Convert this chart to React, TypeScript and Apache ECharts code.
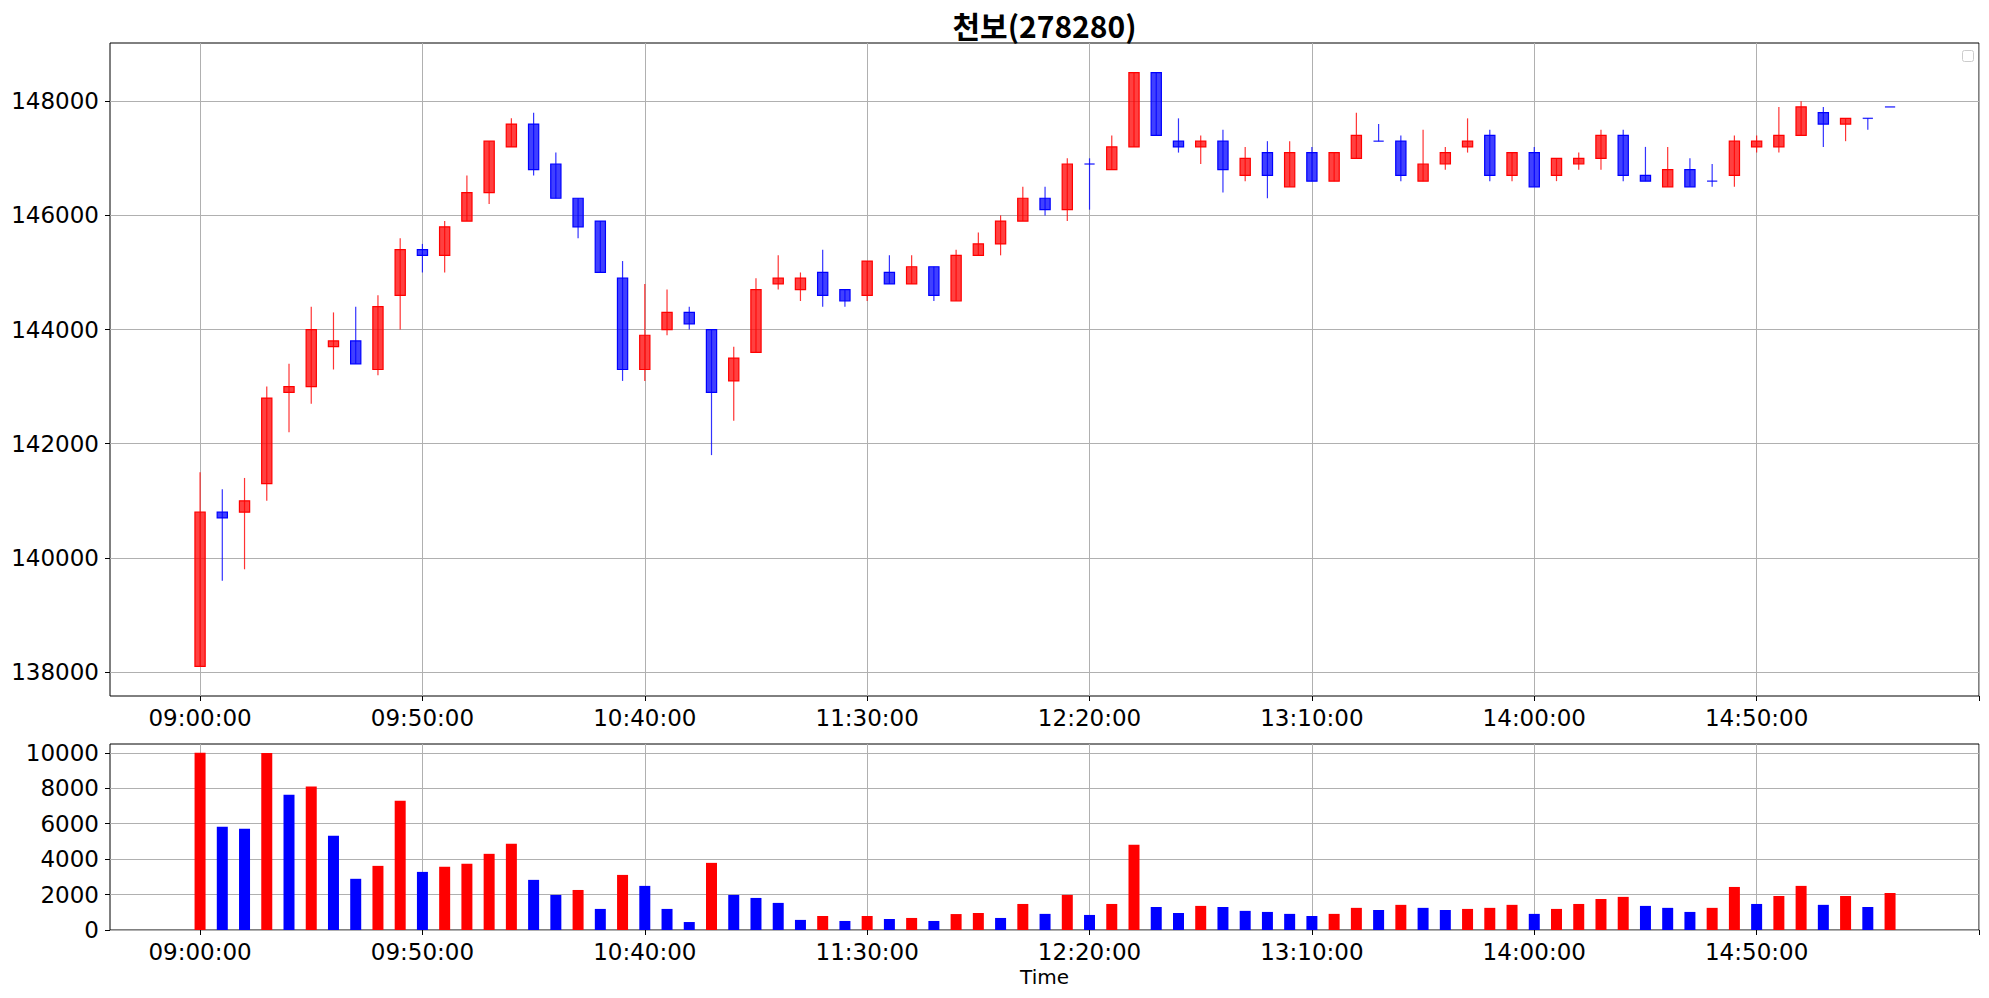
import React, { useEffect, useRef } from "react";
import * as echarts from "echarts";

const titleText = "천보(278280)";
const tickLabels = ["09:00:00", "09:50:00", "10:40:00", "11:30:00", "12:20:00", "13:10:00", "14:00:00", "14:50:00"];
const tickPositions = [0, 10, 20, 30, 40, 50, 60, 70];
const tickMarks = [0, 10, 20, 30, 40, 50, 60, 70, 80];
const priceTicks = [138000, 140000, 142000, 144000, 146000, 148000];
const volumeTicks = [0, 2000, 4000, 6000, 8000, 10000];

const openPrices = [
  138100, 140800, 140800, 141300, 142900, 143000, 143700, 143800, 143300, 144600,
  145400, 145300, 145900, 146400, 147200, 147600, 146900, 146300, 145900, 144900,
  143300, 144000, 144300, 144000, 143100, 143600, 144800, 144700, 145000, 144700,
  144600, 145000, 144800, 145100, 144500, 145300, 145500, 145900, 146300, 146100,
  146900, 146800, 147200, 148500, 147300, 147200, 147300, 146700, 147100, 146500,
  147100, 146600, 147000, 147300, 147300, 146600, 146900, 147200, 147400, 146700,
  147100, 146700, 146900, 147000, 147400, 146700, 146500, 146800, 146600, 146700,
  147200, 147200, 147400, 147800, 147600, 147700, 147900,
];
const closePrices = [
  140800, 140700, 141000, 142800, 143000, 144000, 143800, 143400, 144400, 145400,
  145300, 145800, 146400, 147300, 147600, 146800, 146300, 145800, 145000, 143300,
  143900, 144300, 144100, 142900, 143500, 144700, 144900, 144900, 144600, 144500,
  145200, 144800, 145100, 144600, 145300, 145500, 145900, 146300, 146100, 146900,
  146900, 147200, 148500, 147400, 147200, 147300, 146800, 147000, 146700, 147100,
  146600, 147100, 147400, 147300, 146700, 146900, 147100, 147300, 146700, 147100,
  146500, 147000, 147000, 147400, 146700, 146600, 146800, 146500, 146600, 147300,
  147300, 147400, 147900, 147600, 147700, 147700, 147900,
];
const lowPrices = [
  138100, 139600, 139800, 141000, 142200, 142700, 143300, 143400, 143200, 144000,
  145000, 145000, 145900, 146200, 147200, 146700, 146300, 145600, 145000, 143100,
  143100, 143900, 144000, 141800, 142400, 143600, 144700, 144500, 144400, 144400,
  144500, 144800, 144800, 144500, 144500, 145300, 145300, 145900, 146000, 145900,
  146100, 146800, 147200, 147400, 147100, 146900, 146400, 146600, 146300, 146500,
  146600, 146600, 147000, 147300, 146600, 146600, 146800, 147100, 146600, 146600,
  146500, 146600, 146800, 146800, 146600, 146600, 146500, 146500, 146500, 146500,
  147100, 147100, 147400, 147200, 147300, 147500, 147900,
];
const highPrices = [
  141500, 141200, 141400, 143000, 143400, 144400, 144300, 144400, 144600, 145600,
  145500, 145900, 146700, 147300, 147700, 147800, 147100, 146300, 145900, 145200,
  144800, 144700, 144400, 144000, 143700, 144900, 145300, 145000, 145400, 144700,
  145200, 145300, 145300, 145100, 145400, 145700, 146000, 146500, 146500, 147000,
  147000, 147400, 148500, 148500, 147700, 147400, 147500, 147200, 147300, 147300,
  147200, 147100, 147800, 147600, 147400, 147500, 147200, 147700, 147500, 147100,
  147200, 147000, 147100, 147500, 147500, 147200, 147200, 147000, 146900, 147400,
  147400, 147900, 148000, 147900, 147700, 147700, 147900,
];
const volumes = [
  10000, 5830, 5720, 9990, 7640, 8100, 5320, 2890, 3620, 7300,
  3280, 3570, 3740, 4300, 4870, 2830, 1980, 2260, 1190, 3110,
  2490, 1190, 450, 3790, 1980, 1810, 1530, 570, 790, 510,
  790, 620, 680, 510, 900, 960, 680, 1470, 910, 1980,
  850, 1470, 4810, 1300, 960, 1360, 1300, 1080, 1020, 910,
  790, 910, 1250, 1130, 1420, 1250, 1130, 1190, 1250, 1420,
  910, 1190, 1470, 1750, 1870, 1360, 1250, 1020, 1250, 2430,
  1470, 1920, 2490, 1420, 1920, 1300, 2090,
];

const W = 1989;
const H = 998;
const FONT = "'DejaVu Sans', sans-serif";
const UP = "#ff0000";
const DOWN = "#0000ff";

export default function App() {
  const ref = useRef<HTMLDivElement>(null);
  useEffect(() => {
    if (!ref.current) return;
    const chart = echarts.init(ref.current, undefined, { renderer: "svg", width: W, height: H });

    const candleData = openPrices.map((o, i) => [i, o, closePrices[i], lowPrices[i], highPrices[i]]);
    const volData = volumes.map((v, i) => [i, v]);

    const xAxisBase = (gridIndex: number) => ({
      type: "value",
      gridIndex,
      min: -4.05,
      max: 80,
      axisLine: { show: false, onZero: false },
      axisTick: { show: true, length: 5, customValues: tickMarks, lineStyle: { color: "#000", width: 1 } },
      splitLine: { show: true, lineStyle: { color: "#b0b0b0", width: 1 } },
      axisLabel: {
        show: true,
        customValues: tickPositions,
        formatter: (v: number) => tickLabels[Math.round(v / 10)] ?? "",
        fontSize: 23,
        fontFamily: FONT,
        color: "#000",
        margin: 10,
      },
    });

    const yAxisBase = (gridIndex: number, min: number, max: number, ticks: number[]) => ({
      type: "value",
      gridIndex,
      min,
      max,
      axisLine: { show: false, onZero: false },
      axisTick: { show: true, length: 5, customValues: ticks, lineStyle: { color: "#000" } },
      splitLine: { show: true, lineStyle: { color: "#b0b0b0", width: 1 } },
      axisLabel: {
        customValues: ticks,
        formatter: (v: number) => String(v),
        fontSize: 23,
        fontFamily: FONT,
        color: "#000",
        margin: 11,
      },
    });

    const option: any = {
      animation: false,
      backgroundColor: "#ffffff",
      grid: [
        { left: 110, top: 43, width: 1869, height: 653, show: true, borderColor: "#000", borderWidth: 1, backgroundColor: "transparent" },
        { left: 110, top: 744, width: 1869, height: 186, show: true, borderColor: "#000", borderWidth: 1, backgroundColor: "transparent" },
      ],
      xAxis: [xAxisBase(0), xAxisBase(1)],
      yAxis: [
        yAxisBase(0, 137580, 149020, priceTicks),
        yAxisBase(1, 0, 10500, volumeTicks),
      ],
      series: [
        {
          type: "custom",
          name: "price",
          xAxisIndex: 0,
          yAxisIndex: 0,
          clip: true,
          encode: { x: 0, y: [1, 2, 3, 4] },
          data: candleData,
          renderItem: (params: any, api: any) => {
            const x = api.value(0);
            const o = api.value(1);
            const c = api.value(2);
            const l = api.value(3);
            const h = api.value(4);
            const up = c > o;
            const stroke = up ? UP : DOWN;
            const fill = up ? "rgba(255,0,0,0.75)" : "rgba(0,0,255,0.75)";
            const bw = api.size([1, 0])[0] * 0.46;
            const pO = api.coord([x, o]);
            const pC = api.coord([x, c]);
            const pH = api.coord([x, h]);
            const pL = api.coord([x, l]);
            const top = Math.min(pO[1], pC[1]);
            const hgt = Math.abs(pO[1] - pC[1]);
            const children: any[] = [];
            if (hgt >= 0.5) {
              children.push({
                type: "rect",
                shape: { x: pO[0] - bw / 2, y: top, width: bw, height: hgt },
                style: { fill, stroke, lineWidth: 1.2 },
              });
            } else {
              children.push({
                type: "line",
                shape: { x1: pO[0] - bw / 2, y1: top, x2: pO[0] + bw / 2, y2: top },
                style: { stroke, lineWidth: 1.4, opacity: 0.8 },
              });
            }
            children.push({
              type: "line",
              shape: { x1: pH[0], y1: pH[1], x2: pL[0], y2: pL[1] },
              style: { stroke, lineWidth: 1.2, opacity: 0.8 },
            });
            return { type: "group", children };
          },
        },
        {
          type: "bar",
          name: "volume",
          xAxisIndex: 1,
          yAxisIndex: 1,
          barWidth: 11,
          data: volData,
          itemStyle: {
            color: (p: any) => {
              const i = p.dataIndex;
              if (i === 0) return UP;
              return volumes[i] >= volumes[i - 1] ? UP : DOWN;
            },
          },
        },
      ],
      graphic: [
        {
          type: "text",
          x: 1044.5,
          y: 25,
          style: {
            text: titleText,
            fontSize: 30,
            fontWeight: "bold",
            fontFamily: "'Noto Sans CJK KR', sans-serif",
            fill: "#000",
            align: "center",
            verticalAlign: "middle",
          },
        },
        {
          type: "text",
          x: 1044.5,
          y: 976.5,
          style: {
            text: "Time",
            fontSize: 20,
            fontFamily: FONT,
            fill: "#000",
            align: "center",
            verticalAlign: "middle",
          },
        },
        {
          type: "rect",
          shape: { x: 1962.5, y: 50.5, width: 11, height: 11, r: 2 },
          style: { fill: "#ffffff", stroke: "#cccccc", lineWidth: 1 },
        },
      ],
    };

    chart.setOption(option);
    return () => {
      chart.dispose();
    };
  }, []);

  return (
    <div
      ref={ref}
      style={{ position: "fixed", left: 0, top: 0, width: W, height: H, background: "#fff" }}
    />
  );
}
